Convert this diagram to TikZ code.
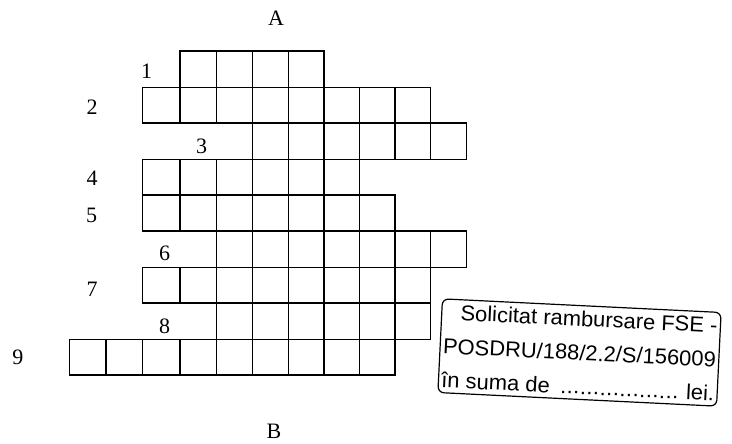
\documentclass[tikz,border=0pt]{standalone}
\usepackage{fontspec}
\setmainfont{Liberation Serif}
\newfontfamily\stampfont[FakeStretch=1.02]{Liberation Sans}
\newcommand\stampdots{\leaders\hbox to 6.6pt{\hss.\hss}\hfill}
\tikzset{
  gridcell/.style={draw=black, line width=1.1pt},
  lbl/.style={inner sep=0pt, font=\fontsize{22}{26}\selectfont},
  stampbox/.style={draw=black, line width=1.2pt, rounded corners=6pt,
    inner xsep=3pt, inner ysep=5pt, align=left,
    font=\stampfont\fontsize{21.5}{34}\selectfont}
}
\begin{document}
\begin{tikzpicture}[x=1pt, y=-1pt]
\useasboundingbox (0,0) rectangle (732,444);
% crossword cells: row / first edge / last edge
\foreach \r/\a/\b in {1/3/7, 2/2/10, 3/5/11, 4/2/8, 5/2/9, 6/4/11, 7/2/10, 8/4/10, 9/0/9} {
  \pgfmathtruncatemacro\bb{\b-1}
  \pgfmathsetmacro\yt{{51,87.3,123,159.3,195,231,267.3,303,339.3,375}[\r-1]}
  \pgfmathsetmacro\yb{{51,87.3,123,159.3,195,231,267.3,303,339.3,375}[\r]}
  \foreach \k in {\a,...,\bb} {
    \pgfmathsetmacro\xl{{69.3,106,142.7,180,216.3,252.7,288.5,324,359.3,395,430.7,466.7}[\k]}
    \pgfmathsetmacro\xr{{69.3,106,142.7,180,216.3,252.7,288.5,324,359.3,395,430.7,466.7}[\k+1]}
    \draw[gridcell] (\xl,\yt) rectangle (\xr,\yb);
  }
}
% labels
\node[lbl] (lA) at (276,18.5) {A};
\node[lbl] (lB) at (274,431) {B};
\node[lbl] (l1) at (146.5,71.5) {1};
\node[lbl] (l2) at (92,107.5) {2};
\node[lbl] (l3) at (201.7,146) {3};
\node[lbl] (l4) at (92,178) {4};
\node[lbl] (l5) at (91.7,215.7) {5};
\node[lbl] (l6) at (164.7,253) {6};
\node[lbl] (l7) at (92,289.7) {7};
\node[lbl] (l8) at (164.7,326) {8};
\node[lbl] (l9) at (18,357) {9};
% stamp
\node[stampbox, rotate=-2.8] (stamp) at (579.5,352.5) {%
\makebox[273pt][r]{Solicitat rambursare FSE -}\\
\makebox[273pt][l]{POSDRU/188/2.2/S/156009}\\
\makebox[273pt]{în suma de \stampdots{} lei.}};
\end{tikzpicture}
\end{document}
